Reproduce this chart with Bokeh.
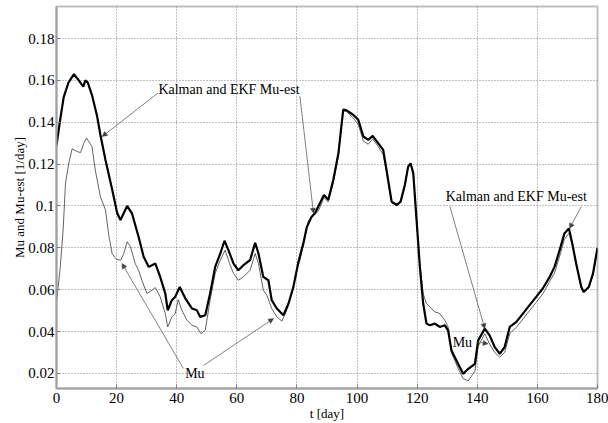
from bokeh.plotting import figure
from bokeh.models import Range1d, FixedTicker, Label, Arrow, NormalHead
from bokeh.embed import file_html
from bokeh.resources import INLINE

# Kalman / EKF estimate (thick line)
t_est = [0, 1.2, 2.4, 4, 5.8, 7.4, 8.9, 9.6, 10.4, 11.8, 13.5, 14.6, 16.3, 18.5, 20.2,
         21.3, 23.5, 25.1, 27.3, 29.0, 30.7, 32.9, 34.5, 36.2, 37.0, 38.4, 39.5, 41.0,
         42.8, 45.1, 46.7, 47.8, 49.5, 51.1, 52.8, 54.5, 55.9, 57.2, 58.9, 60.5, 62.2,
         64.4, 66.1, 67.2, 68.8, 70.5, 71.6, 73.3, 75.5, 77.2, 78.8, 80.5, 82.1, 83.3,
         84.9, 86.0, 87.1, 89.0, 90.4, 92.1, 93.8, 95.4, 96.5, 98.7, 100.4, 102.1, 103.7,
         105.2, 107.0, 108.7, 109.8, 111.5, 113.2, 114.5, 115.9, 117.0, 117.8, 118.7,
         119.8, 120.9, 122.0, 123.1, 124.2, 125.9, 127.5, 129.2, 130.3, 131.4, 133.6,
         135.3, 137.0, 139.2, 140.3, 142.5, 144.1, 145.8, 147.5, 149.1, 150.8, 153.0,
         155.2, 157.4, 159.6, 161.8, 164.1, 165.7, 167.4, 169.0, 170.5, 171.6, 172.9,
         174.6, 175.4, 177.1, 178.5, 180]
mu_est = [0.129, 0.141, 0.152, 0.159, 0.163, 0.160, 0.157, 0.160, 0.159, 0.153, 0.143,
          0.134, 0.122, 0.108, 0.0965, 0.0933, 0.100, 0.0965, 0.0853, 0.0757, 0.0709,
          0.0725, 0.0661, 0.0582, 0.0502, 0.0550, 0.0566, 0.0613, 0.0560, 0.051, 0.0502,
          0.047, 0.0478, 0.0582, 0.0709, 0.0773, 0.0834, 0.0789, 0.0725, 0.0693, 0.0717,
          0.0741, 0.0824, 0.0773, 0.0661, 0.0645, 0.055, 0.051, 0.0478, 0.0534, 0.0613,
          0.0733, 0.082, 0.090, 0.0949, 0.0965, 0.0997, 0.1053, 0.1029, 0.1125, 0.1252,
          0.146, 0.1457, 0.1436, 0.1412, 0.1332, 0.1316, 0.1335, 0.130, 0.1268, 0.1172,
          0.1021, 0.1005, 0.1021, 0.110, 0.1188, 0.1204, 0.1157, 0.0933, 0.0709, 0.0534,
          0.0438, 0.043, 0.0438, 0.0422, 0.043, 0.0406, 0.031, 0.0246, 0.0198, 0.0222,
          0.0246, 0.0358, 0.0414, 0.0382, 0.0326, 0.0294, 0.0326, 0.0422, 0.0446, 0.0486,
          0.0526, 0.0566, 0.0606, 0.0661, 0.0709, 0.0789, 0.0869, 0.0893, 0.0821, 0.0725,
          0.0613, 0.0589, 0.0613, 0.0677, 0.0800]

# true Mu (thin line)
t_mu = [0, 1.2, 2.2, 3.0, 4.1, 5.2, 6.9, 8.0, 9.1, 10.0, 11.1, 11.8, 12.9, 14.6, 16.3,
        17.4, 18.5, 19.9, 21.3, 22.4, 23.5, 24.6, 26.2, 27.3, 28.4, 30.1, 31.8, 32.9,
        34.5, 36.2, 37.0, 38.4, 39.5, 40.5, 41.7, 43.4, 45.1, 46.7, 48.0, 49.5, 51.1,
        52.8, 54.5, 56.1, 57.6, 58.9, 60.5, 62.2, 64.4, 66.1, 67.2, 68.8, 70.0, 71.6,
        73.3, 75.0, 76.6, 78.3, 79.9, 81.0, 82.7, 83.8, 85.5, 87.1, 89.0, 90.4, 92.1,
        93.8, 95.4, 96.5, 98.7, 100.4, 102.1, 103.7, 105.2, 107.0, 108.7, 109.8, 111.5,
        113.2, 114.5, 115.9, 117.0, 117.8, 118.7, 119.8, 120.9, 122.0, 123.1, 124.2,
        125.9, 127.5, 129.2, 130.3, 131.4, 133.6, 135.3, 137.0, 139.2, 140.3, 142.5,
        144.1, 145.8, 147.5, 149.1, 150.8, 153.0, 155.2, 157.4, 159.6, 161.8, 164.1,
        165.7, 167.4, 169.0, 170.5, 171.6, 172.9, 174.6, 175.4, 177.1, 178.5, 180]
mu = [0.0542, 0.070, 0.0885, 0.111, 0.1205, 0.1273, 0.126, 0.1255, 0.130, 0.1324, 0.130,
      0.1284, 0.1172, 0.1045, 0.098, 0.086, 0.0773, 0.0745, 0.0741, 0.0773, 0.0829,
      0.0805, 0.0725, 0.0693, 0.0645, 0.0582, 0.0598, 0.061, 0.0566, 0.0486, 0.0422,
      0.047, 0.0486, 0.0553, 0.0502, 0.0454, 0.043, 0.0422, 0.039, 0.0406, 0.055,
      0.0678, 0.0741, 0.0789, 0.0725, 0.0678, 0.0645, 0.0661, 0.0693, 0.0773, 0.0725,
      0.0598, 0.0574, 0.051, 0.047, 0.045, 0.0502, 0.0582, 0.0693, 0.0741, 0.0853,
      0.093, 0.0955, 0.0975, 0.104, 0.102, 0.111, 0.124, 0.1455, 0.1452, 0.142, 0.139,
      0.131, 0.1295, 0.132, 0.1285, 0.1245, 0.1165, 0.1015, 0.1000, 0.1018, 0.1095,
      0.1185, 0.120, 0.1155, 0.093, 0.072, 0.058, 0.0535, 0.0518, 0.0494, 0.0486,
      0.0454, 0.0422, 0.030, 0.0225, 0.0175, 0.0165, 0.021, 0.033, 0.039, 0.034, 0.030,
      0.0278, 0.030, 0.039, 0.042, 0.046, 0.050, 0.054, 0.058, 0.064, 0.068, 0.076,
      0.084, 0.087, 0.082, 0.072, 0.061, 0.059, 0.061, 0.067, 0.079]

x_ticks = [0, 20, 40, 60, 80, 100, 120, 140, 160, 180]
y_ticks = [0.02, 0.04, 0.06, 0.08, 0.1, 0.12, 0.14, 0.16, 0.18]
y_tick_labels = ["0.02", "0.04", "0.06", "0.08", "0.1", "0.12", "0.14", "0.16", "0.18"]

FONT = "Liberation Serif"

p = figure(width=608, height=423, output_backend="svg", toolbar_location=None,
           x_range=Range1d(0, 180), y_range=Range1d(0.0128, 0.1953),
           x_axis_label="t [day]", y_axis_label="Mu and Mu-est [1/day]",
           min_border_left=56, min_border_right=11, min_border_top=6, min_border_bottom=35)

p.outline_line_color = "#c0c0c0"
p.outline_line_width = 2

# grid, matlab style dotted
for g in (p.xgrid, p.ygrid):
    g.grid_line_color = "#808080"
    g.grid_line_dash = "1 2"
    g.grid_line_width = 1
p.xaxis.ticker = FixedTicker(ticks=x_ticks)
p.yaxis.ticker = FixedTicker(ticks=y_ticks)
p.yaxis.major_label_overrides = dict(zip(y_ticks, y_tick_labels))

for ax in (p.xaxis, p.yaxis):
    ax.axis_line_color = "#a0a0a0"
    ax.axis_line_width = 2
    ax.major_tick_in = 4
    ax.major_tick_out = 0
    ax.major_tick_line_color = "#808080"
    ax.minor_tick_line_color = None
    ax.major_label_text_font = FONT
    ax.major_label_text_font_size = "15px"
    ax.major_label_text_color = "black"
    ax.axis_label_text_font = FONT
    ax.axis_label_text_font_size = "13px"
    ax.axis_label_text_font_style = "normal"
    ax.axis_label_text_color = "black"
p.xaxis.major_label_standoff = 4
p.xaxis.axis_label_standoff = 0
p.yaxis.major_label_standoff = 2
p.yaxis.axis_label_standoff = -2

p.line(t_mu, mu, line_color="#3c3c3c", line_width=0.8)
p.line(t_est, mu_est, line_color="black", line_width=2.2)

# annotations
def note(x, y, txt):
    p.add_layout(Label(x=x, y=y, text=txt, text_font=FONT, text_font_size="14px",
                       text_baseline="middle", text_color="black"))

def pointer(x0, y0, x1, y1):
    p.add_layout(Arrow(x_start=x0, y_start=y0, x_end=x1, y_end=y1,
                       line_color="#606060", line_width=0.8,
                       end=NormalHead(size=5, line_color="#404040", fill_color="#404040",
                                      line_width=0.5)))

note(33.9, 0.1556, "Kalman and EKF Mu-est")
pointer(33.8, 0.154, 15.2, 0.1332)
pointer(81.0, 0.1524, 85.5, 0.0965)

note(129.5, 0.1045, "Kalman and EKF Mu-est")
pointer(130.9, 0.0997, 142.5, 0.0414)
pointer(174.6, 0.0997, 170.7, 0.0893)

note(42.8, 0.0201, "Mu")
pointer(42.2, 0.0224, 21.8, 0.0725)
pointer(48.9, 0.0238, 72.2, 0.0462)

note(131.8, 0.0350, "Mu")
pointer(139.7, 0.0350, 143.6, 0.0342)

open("out.html", "w").write(file_html(p, INLINE))
